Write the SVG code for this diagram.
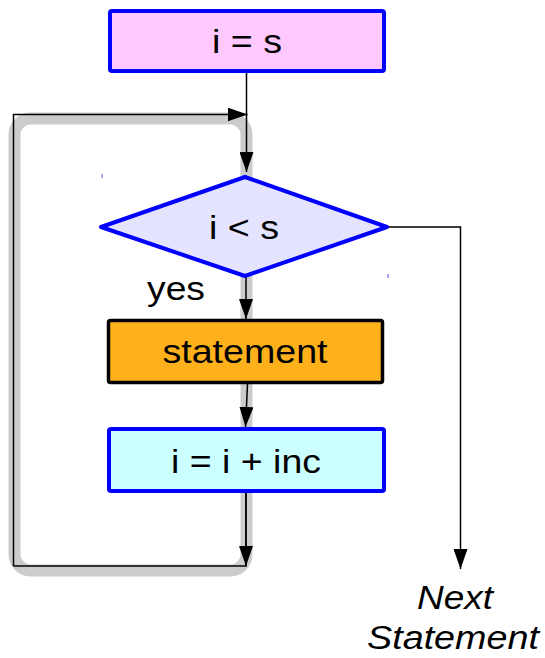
<svg xmlns="http://www.w3.org/2000/svg" width="545" height="658" viewBox="0 0 545 658">
  <defs>
    <marker id="arrow" viewBox="0 0 20 14" refX="20" refY="7" markerWidth="20" markerHeight="14" markerUnits="userSpaceOnUse" orient="auto">
      <path d="M0,0 L20,7 L0,14 Z" fill="#000"/>
    </marker>
    <style>
      .lbl { font-family: "Liberation Sans", Arial, sans-serif; font-size: 33px; fill: #000; text-anchor: middle; }
      .ital { font-style: italic; }
      .conn { fill: none; stroke: #000; stroke-width: 1.5; }
      .loop { fill: none; stroke: #cccccc; stroke-width: 12; }
      .tick { fill: #7070ff; }
    </style>
  </defs>

  <!-- loop-back band behind the body of the loop -->
  <rect class="loop" x="14.5" y="118.5" width="232" height="452" rx="16"/>

  <!-- connectors -->
  <g id="connectors">
    <path class="conn" d="M246.5,73 V172" marker-end="url(#arrow)"/>
    <path class="conn" d="M13.5,566 V114.5 H247.5" marker-end="url(#arrow)"/>
    <path class="conn" d="M246,276 V319" marker-end="url(#arrow)"/>
    <path class="conn" d="M247.5,384 L245.5,427" marker-end="url(#arrow)"/>
    <path class="conn" d="M246,493 V566 H13.5"/>
    <path class="conn" d="M246,493 V566" marker-end="url(#arrow)"/>
    <path class="conn" d="M388,227 H460.5 V569" marker-end="url(#arrow)"/>
  </g>

  <g id="init">
    <rect x="110" y="11" width="274" height="60" rx="2" fill="#ffc8ff" stroke="#0000ff" stroke-width="4"/>
    <text class="lbl" x="247" y="53" textLength="70" lengthAdjust="spacingAndGlyphs">i = s</text>
  </g>

  <g id="condition">
    <polygon points="101,227 245,177 387,227 245,276" fill="#e4e4ff" stroke="#0000ff" stroke-width="4" stroke-linejoin="round"/>
    <text class="lbl" x="244" y="239" textLength="70" lengthAdjust="spacingAndGlyphs">i &lt; s</text>
    <rect class="tick" x="101.5" y="174" width="1.2" height="4"/>
    <rect class="tick" x="387.5" y="274" width="1.2" height="4"/>
  </g>

  <text id="yes-label" class="lbl" x="176" y="300" textLength="58" lengthAdjust="spacingAndGlyphs">yes</text>

  <g id="body">
    <rect x="108.5" y="320.5" width="274" height="62" rx="2" fill="#ffb11b" stroke="#000" stroke-width="3.5"/>
    <text class="lbl" x="245" y="363" textLength="165" lengthAdjust="spacingAndGlyphs">statement</text>
  </g>

  <g id="increment">
    <rect x="109" y="429" width="275" height="62" rx="2" fill="#ccffff" stroke="#0000ff" stroke-width="4"/>
    <text class="lbl" x="246" y="473" textLength="150" lengthAdjust="spacingAndGlyphs">i = i + inc</text>
  </g>

  <g id="next">
    <text class="lbl ital" x="455" y="609" textLength="76" lengthAdjust="spacingAndGlyphs">Next</text>
    <text class="lbl ital" x="453" y="649" textLength="172" lengthAdjust="spacingAndGlyphs">Statement</text>
  </g>
</svg>
